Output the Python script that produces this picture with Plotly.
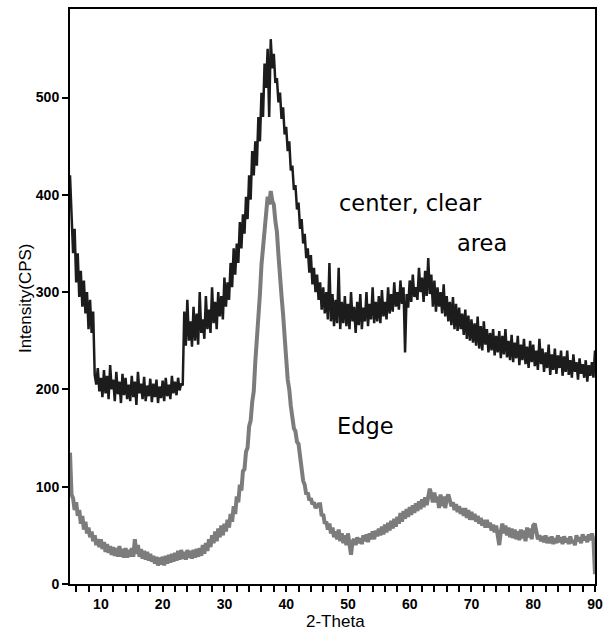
import plotly.graph_objects as go

# 2-Theta sampling grid (0.25 degree steps from 5 to 90)
two_theta = [5 + 0.25 * i for i in range(341)]

center_clear = [
    420, 370, 340, 365, 310, 340, 295, 322, 285, 312, 278, 300, 262, 292, 258, 280, 215, 205, 222, 198,
    212, 192, 220, 196, 214, 190, 225, 200, 210, 188, 218, 195, 208, 186, 216, 194, 212, 190, 205, 188,
    214, 192, 208, 184, 218, 196, 206, 190, 213, 188, 204, 193, 211, 187, 206, 192, 210, 186, 203, 191,
    209, 188, 212, 193, 205, 190, 214, 196, 208, 194, 212, 199, 206, 204, 280, 245, 292, 250, 270, 244,
    285, 250, 278, 246, 300, 258, 272, 252, 296, 262, 282, 258, 305, 268, 290, 262, 300, 275, 296, 272,
    315, 285, 310, 292, 330, 305, 345, 318, 350, 330, 372, 345, 380, 360, 398, 375, 420, 395, 445, 420,
    455, 430, 480, 455, 505, 480, 535, 510, 550, 480, 560, 530, 545, 515, 520, 495, 505, 478, 490, 462,
    470, 445, 455, 425, 430, 405, 410, 385, 392, 365, 375, 350, 360, 335, 345, 320, 338, 308, 325, 300,
    318, 292, 310, 282, 305, 278, 300, 272, 330, 270, 298, 265, 292, 268, 325, 262, 290, 268, 296, 265,
    288, 262, 300, 270, 285, 258, 290, 266, 298, 262, 284, 270, 300, 265, 288, 272, 305, 268, 290, 270,
    296, 268, 302, 275, 290, 272, 305, 278, 298, 280, 310, 285, 300, 282, 312, 288, 305, 238, 298, 284,
    312, 290, 318, 295, 305, 292, 325, 300, 315, 290, 322, 296, 335, 298, 318, 285, 312, 280, 305, 285,
    300, 278, 308, 275, 296, 270, 290, 266, 295, 262, 288, 260, 284, 262, 278, 256, 282, 252, 276, 250,
    272, 248, 268, 245, 275, 242, 265, 240, 270, 246, 262, 238, 258, 240, 262, 235, 255, 238, 260, 232,
    255, 236, 262, 233, 250, 230, 256, 228, 248, 232, 255, 225, 246, 230, 252, 226, 244, 222, 250, 228,
    246, 224, 240, 220, 252, 226, 242, 218, 238, 222, 246, 215, 236, 220, 242, 216, 235, 222, 240, 214,
    234, 218, 240, 215, 230, 212, 236, 218, 228, 210, 232, 216, 226, 212, 230, 208, 225, 214, 228, 212,
    240,
]

edge = [
    135, 92, 88, 76, 84, 70, 76, 62, 70, 56, 64, 52, 58, 48, 54, 44, 50, 40, 46, 38,
    46, 36, 43, 33, 41, 32, 39, 30, 38, 29, 37, 28, 39, 28, 36, 27, 37, 27, 35, 28,
    37, 28, 46, 31, 40, 28, 36, 26, 34, 25, 33, 24, 31, 23, 29, 21, 28, 19, 27, 20,
    28, 19, 29, 21, 30, 22, 31, 23, 32, 24, 34, 25, 35, 26, 33, 25, 35, 27, 34, 26,
    35, 27, 36, 28, 37, 29, 40, 31, 42, 34, 46, 38, 50, 42, 54, 44, 57, 48, 60, 50,
    62, 54, 66, 58, 72, 64, 80, 72, 90, 84, 102, 96, 116, 118, 136, 140, 162, 168, 187, 198,
    228, 248, 278, 298, 328, 346, 370, 383, 398, 390, 404, 394, 390, 373, 362, 338, 322, 296, 277, 248,
    232, 210, 200, 183, 174, 160, 157, 146, 144, 128, 120, 106, 102, 92, 94, 86, 88, 82, 84, 78,
    80, 82, 82, 70, 72, 62, 64, 56, 62, 52, 58, 48, 54, 46, 56, 44, 52, 42, 50, 40,
    52, 42, 30, 44, 46, 40, 48, 42, 47, 41, 50, 44, 51, 43, 52, 46, 54, 46, 55, 49,
    57, 50, 59, 51, 61, 53, 63, 55, 65, 57, 67, 59, 69, 62, 73, 64, 75, 67, 77, 69,
    79, 71, 81, 73, 83, 75, 85, 77, 87, 79, 89, 81, 91, 98, 92, 84, 94, 84, 90, 78,
    92, 80, 90, 78, 88, 92, 86, 80, 84, 76, 82, 74, 80, 72, 78, 70, 78, 68, 76, 66,
    74, 66, 72, 64, 70, 62, 68, 60, 66, 58, 66, 58, 63, 55, 61, 53, 60, 52, 40, 54,
    62, 52, 60, 50, 58, 48, 57, 47, 56, 46, 54, 45, 56, 47, 55, 44, 58, 48, 57, 46,
    60, 62, 54, 46, 50, 44, 49, 43, 50, 42, 48, 42, 49, 41, 47, 42, 50, 43, 48, 41,
    49, 43, 47, 41, 49, 42, 45, 40, 50, 44, 48, 42, 51, 45, 49, 43, 51, 45, 52, 45,
    10,
]

assert len(center_clear) == len(two_theta) == len(edge)

x_tick_vals = [10, 20, 30, 40, 50, 60, 70, 80, 90]
y_tick_vals = [0, 100, 200, 300, 400, 500]

labels = [
    dict(text="center, clear", x=48.3, y=392),
    dict(text="area", x=67.4, y=350),
    dict(text="Edge", x=47.9, y=162),
]

fig = go.Figure()
fig.add_trace(go.Scatter(x=two_theta, y=edge, mode="lines",
                         line=dict(color="#7c7c7c", width=4), showlegend=False))
fig.add_trace(go.Scatter(x=two_theta, y=center_clear, mode="lines",
                         line=dict(color="#1c1c1c", width=2.5), showlegend=False))

for a in labels:
    fig.add_annotation(text=a["text"], x=a["x"], y=a["y"], xref="x", yref="y",
                       xanchor="left", yanchor="middle", showarrow=False,
                       font=dict(family="DejaVu Sans, sans-serif", size=22.5, color="black"))

# axis titles placed as paper annotations so the margins stay fixed
fig.add_annotation(text="2-Theta", x=0.505, y=-0.066, xref="paper", yref="paper",
                   xanchor="center", yanchor="middle", showarrow=False,
                   font=dict(family="Liberation Sans, Arial, sans-serif", size=17, color="black"))
fig.add_annotation(text="Intensity(CPS)", x=-0.086, y=0.497, xref="paper", yref="paper",
                   xanchor="center", yanchor="middle", showarrow=False, textangle=-90,
                   font=dict(family="Liberation Sans, Arial, sans-serif", size=17, color="black"))

fig.update_layout(
    width=606, height=631,
    margin=dict(l=70, r=11, t=9, b=47, autoexpand=False),
    paper_bgcolor="white", plot_bgcolor="white",
    font=dict(family="Liberation Sans, Arial, sans-serif", color="black"),
)
fig.update_xaxes(
    range=[5, 90], tickvals=x_tick_vals, ticks="outside", ticklen=6, tickwidth=2,
    tickcolor="black", showline=True, linecolor="black", linewidth=2, mirror=True,
    showgrid=False, zeroline=False, automargin=False,
    tickfont=dict(size=14, weight="bold"),
    minor=dict(dtick=2, tick0=0, ticks="outside", ticklen=6, tickwidth=2, tickcolor="black", showgrid=False),
)
fig.update_yaxes(
    range=[0, 591], tickvals=y_tick_vals, ticks="outside", ticklen=6, tickwidth=2,
    tickcolor="black", showline=True, linecolor="black", linewidth=2, mirror=True,
    showgrid=False, zeroline=False, automargin=False,
    tickfont=dict(size=14, weight="bold"),
)

fig.write_html("out.html", config={"displayModeBar": False},
               post_script="document.body.style.margin='0px';")
